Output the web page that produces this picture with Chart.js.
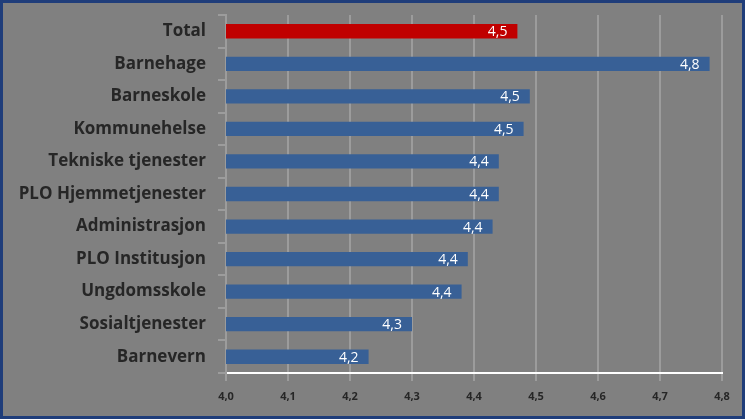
<!DOCTYPE html>
<html>
<head>
<meta charset="utf-8">
<script src="https://cdn.jsdelivr.net/npm/chart.js@4.4.1/dist/chart.umd.min.js"></script>
<style>
  html, body { margin: 0; padding: 0; background: #808080; }
  #wrap { width: 745px; height: 419px; box-sizing: border-box; border: 3px solid #1f3d7a; }
</style>
</head>
<body>
<div id="wrap"><canvas id="chart" width="739" height="413"></canvas></div>
<script>
// categories, top to bottom
const categories = [
    "Total", "Barnehage", "Barneskole", "Kommunehelse", "Tekniske tjenester",
    "PLO Hjemmetjenester", "Administrasjon", "PLO Institusjon", "Ungdomsskole",
    "Sosialtjenester", "Barnevern"
];
const scores = [4.47, 4.78, 4.49, 4.48, 4.44, 4.44, 4.43, 4.39, 4.38, 4.30, 4.23];
const xTicks = [4.0, 4.1, 4.2, 4.3, 4.4, 4.5, 4.6, 4.7, 4.8];

const barColors = categories.map((c) => c === "Total" ? "#c00000" : "#386096");

const fmt = (v) => v.toFixed(1).replace(".", ",");

// white value labels at bar end
const valueLabels = {
    id: "valueLabels",
    afterDatasetsDraw(chart) {
        const ctx = chart.ctx;
        const meta = chart.getDatasetMeta(0);
        ctx.save();
        ctx.font = "14px 'Open Sans'";
        ctx.fillStyle = "#ffffff";
        ctx.textAlign = "right";
        ctx.textBaseline = "middle";
        meta.data.forEach((bar, i) => {
            ctx.fillText(fmt(scores[i]), bar.x - 10, bar.y + 1);
        });
        ctx.restore();
    }
};

new Chart(document.getElementById("chart"), {
    type: "bar",
    data: {
        labels: categories,
        datasets: [{
            data: scores,
            backgroundColor: barColors,
            barPercentage: 0.44,
            categoryPercentage: 1.0
        }]
    },
    options: {
        indexAxis: "y",
        responsive: false,
        animation: false,
        layout: { padding: { top: 12, right: 20, left: 0, bottom: 0 } },
        plugins: {
            legend: { display: false },
            tooltip: { enabled: false }
        },
        scales: {
            x: {
                min: 4.0,
                max: 4.8,
                afterBuildTicks: (scale) => { scale.ticks = xTicks.map((v) => ({ value: v })); },
                afterFit: (scale) => { scale.height = 43; },
                grid: { color: "#9c9c9c", lineWidth: 2, tickLength: 8 },
                border: { color: "#ffffff", width: 2 },
                ticks: {
                    padding: 9,
                    color: "#262626",
                    font: { family: "'Open Sans'", size: 11, weight: "bold" },
                    callback: (v) => fmt(v)
                }
            },
            y: {
                afterFit: (scale) => {
                    scale.width = 223;
                    scale.paddingTop = 0;
                    scale.paddingBottom = 0;
                },
                grid: { drawOnChartArea: false, color: "#9c9c9c", lineWidth: 2, tickLength: 8, offset: true },
                border: { color: "#9c9c9c", width: 2 },
                ticks: {
                    padding: 12,
                    color: "#262626",
                    font: { family: "'Open Sans'", size: 17, weight: "bold" }
                }
            }
        }
    },
    plugins: [valueLabels]
});
</script>
</body>
</html>
